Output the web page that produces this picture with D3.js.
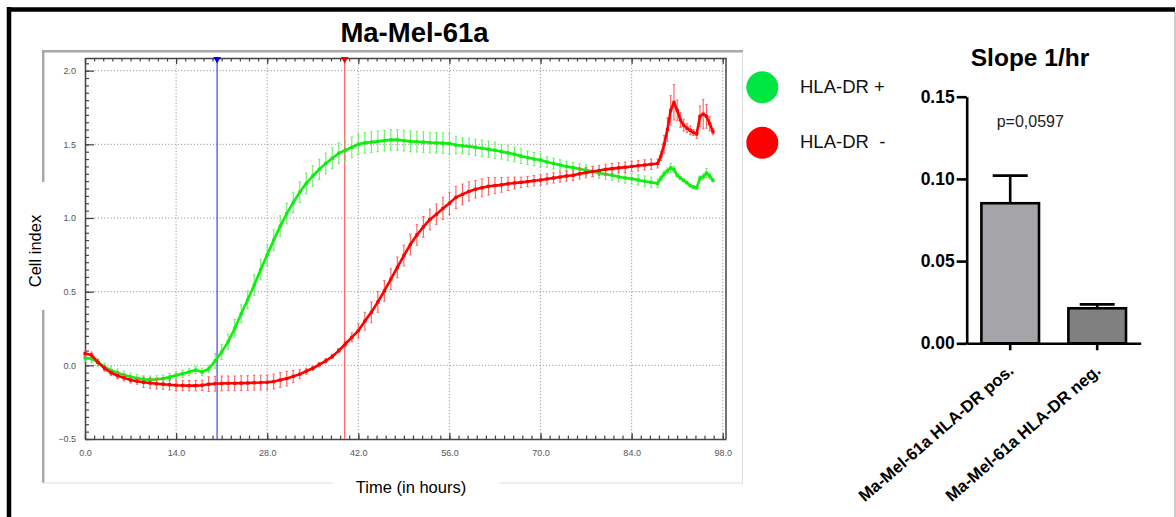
<!DOCTYPE html>
<html><head><meta charset="utf-8">
<script src="https://cdn.jsdelivr.net/npm/d3@7"></script>
<style>
body{margin:0;background:#fff;}
svg{display:block;font-family:"Liberation Sans",Arial,sans-serif;}
</style></head><body>
<svg id="c" width="1176" height="517"></svg>
<script>
// ---------- DATA ----------
const chartTitle = "Ma-Mel-61a";
const hours = [0,1,2,3,4,5,6,7,8,9,10,11,12,13,14,15,16,17,18,19,20,21,22,23,24,25,26,27,28,29,30,31,32,33,34,35,36,37,38,39,40,41,42,43,44,45,46,47,48,49,50,51,52,53,54,55,56,57,58,59,60,61,62,63,64,65,66,67,68,69,70,71,72,73,74,75,76,77,78,79,80,81,82,83,84,85,86,87,88,
  88.5,89,89.5,90,90.5,91,91.5,92,92.5,93,93.5,94,94.5,95,95.5,96,96.5];
const greenMean = [0.05,0.045,0.02,-0.01,-0.035,-0.05,-0.065,-0.078,-0.088,-0.095,-0.097,-0.095,-0.09,-0.08,-0.068,-0.057,-0.045,-0.032,-0.045,-0.025,0.03,0.09,0.16,0.25,0.35,0.445,0.545,0.65,0.75,0.85,0.945,1.03,1.105,1.175,1.235,1.285,1.33,1.37,1.405,1.44,1.46,1.48,1.5,1.51,1.515,1.52,1.525,1.53,1.53,1.525,1.52,1.518,1.515,1.512,1.51,1.508,1.505,1.495,1.49,1.486,1.48,1.474,1.467,1.46,1.45,1.442,1.432,1.42,1.41,1.4,1.394,1.38,1.37,1.36,1.35,1.342,1.333,1.325,1.315,1.305,1.297,1.29,1.28,1.272,1.266,1.258,1.25,1.242,1.235,
  1.27,1.3,1.32,1.34,1.33,1.29,1.27,1.255,1.24,1.22,1.21,1.205,1.27,1.28,1.305,1.285,1.255];
const greenErr = [0.025,0.025,0.025,0.025,0.025,0.025,0.025,0.025,0.025,0.025,0.025,0.025,0.025,0.025,0.025,0.025,0.025,0.025,0.025,0.025,0.05,0.05,0.05,0.06,0.06,0.06,0.07,0.07,0.07,0.07,0.07,0.07,0.07,0.07,0.07,0.07,0.07,0.07,0.07,0.07,0.07,0.07,0.07,0.07,0.07,0.07,0.07,0.07,0.07,0.07,0.07,0.07,0.07,0.07,0.07,0.07,0.07,0.06,0.055,0.055,0.055,0.055,0.055,0.055,0.05,0.05,0.05,0.05,0.045,0.045,0.045,0.035,0.035,0.035,0.035,0.035,0.035,0.035,0.035,0.035,0.035,0.035,0.035,0.035,0.035,0.035,0.035,0.035,0.03,
  0.015,0.02,0.02,0.03,0.02,0.01,0.01,0.01,0.01,0.01,0.01,0.01,0.015,0.02,0.03,0.02,0.01];
const redMean = [0.08,0.07,0.02,-0.02,-0.05,-0.07,-0.085,-0.1,-0.108,-0.115,-0.12,-0.125,-0.128,-0.132,-0.135,-0.137,-0.138,-0.138,-0.135,-0.128,-0.125,-0.123,-0.122,-0.122,-0.121,-0.12,-0.118,-0.117,-0.115,-0.11,-0.1,-0.09,-0.075,-0.06,-0.04,-0.02,0.005,0.03,0.06,0.1,0.145,0.19,0.235,0.3,0.36,0.43,0.505,0.585,0.665,0.745,0.82,0.885,0.94,0.99,1.025,1.065,1.1,1.14,1.16,1.18,1.195,1.205,1.215,1.22,1.225,1.232,1.238,1.242,1.247,1.253,1.258,1.265,1.272,1.278,1.285,1.29,1.3,1.308,1.316,1.322,1.33,1.335,1.34,1.345,1.35,1.355,1.36,1.365,1.37,
  1.42,1.5,1.6,1.73,1.785,1.73,1.665,1.63,1.61,1.595,1.58,1.57,1.69,1.705,1.69,1.64,1.585];
const redErr = [0.02,0.02,0.02,0.02,0.02,0.02,0.02,0.02,0.02,0.035,0.035,0.035,0.035,0.035,0.035,0.035,0.035,0.035,0.035,0.05,0.05,0.05,0.05,0.05,0.05,0.05,0.05,0.05,0.05,0.05,0.05,0.05,0.04,0.03,0.02,0.015,0.015,0.015,0.015,0.015,0.02,0.03,0.05,0.06,0.07,0.07,0.07,0.07,0.07,0.07,0.07,0.07,0.07,0.07,0.07,0.075,0.075,0.075,0.07,0.065,0.06,0.06,0.06,0.055,0.05,0.045,0.04,0.035,0.035,0.035,0.035,0.035,0.035,0.035,0.035,0.035,0.035,0.035,0.035,0.035,0.035,0.035,0.035,0.035,0.035,0.035,0.035,0.035,0.03,
  0.03,0.06,0.08,0.1,0.12,0.07,0.05,0.04,0.03,0.03,0.02,0.03,0.07,0.1,0.08,0.05,0.02];
const xTicks = [0,14,28,42,56,70,84,98];
const yTicks = [-0.5,0,0.5,1.0,1.5,2.0];
const markerHours = [20.3, 39.9];
const legendLabels = ["HLA-DR +", "HLA-DR  -"];

const slopeTitle = "Slope 1/hr";
const slopeCats = ["Ma-Mel-61a HLA-DR pos.", "Ma-Mel-61a HLA-DR neg."];
const slopeMean = [0.0852, 0.0213];
const slopeErr = [0.0168, 0.0024];
const slopeTicks = [0, 0.05, 0.10, 0.15];
const pValue = "p=0,0597";

// ---------- DRAW ----------
const svg = d3.select("#c");
const GREEN = "#10ee10", GREEN_E = "#66f066", RED = "#ff0000", RED_E = "#ff6060";

// outer frame
svg.append("line").attr("x1",7).attr("x2",1175).attr("y1",9.5).attr("y2",9.5).attr("stroke","#000").attr("stroke-width",4.5);
svg.append("line").attr("x1",9).attr("x2",9).attr("y1",7).attr("y2",517).attr("stroke","#000").attr("stroke-width",4.5);
svg.append("line").attr("x1",1175).attr("x2",1175).attr("y1",12).attr("y2",517).attr("stroke","#999").attr("stroke-width",1);

// title
svg.append("text").attr("x",414.5).attr("y",42).attr("text-anchor","middle")
  .attr("font-size",27.5).attr("font-weight","bold").text(chartTitle);

// gray panel frame
const pf = svg.append("g");
pf.append("line").attr("x1",42).attr("x2",743).attr("y1",51.2).attr("y2",51.2).attr("stroke","#a8a8a8").attr("stroke-width",2.5);
pf.append("line").attr("x1",43.2).attr("x2",43.2).attr("y1",50).attr("y2",182).attr("stroke","#a8a8a8").attr("stroke-width",2.5);
pf.append("line").attr("x1",43.2).attr("x2",43.2).attr("y1",310).attr("y2",483).attr("stroke","#a8a8a8").attr("stroke-width",2.5);
pf.append("line").attr("x1",42).attr("x2",333).attr("y1",483).attr("y2",483).attr("stroke","#ddd").attr("stroke-width",1.2);
pf.append("line").attr("x1",500).attr("x2",743).attr("y1",483).attr("y2",483).attr("stroke","#ddd").attr("stroke-width",1.2);
pf.append("line").attr("x1",742.5).attr("x2",742.5).attr("y1",52).attr("y2",483).attr("stroke","#ddd").attr("stroke-width",1);

const x = d3.scaleLinear().domain([0, 98.5]).range([85, 726]);
const y = d3.scaleLinear().domain([-0.5, 2.086]).range([439, 58]);

// grid
const grid = svg.append("g").attr("stroke","#9a9a9a").attr("stroke-width",1).attr("stroke-dasharray","1.2,2");
xTicks.filter(d=>d>0).forEach(d=>{
  grid.append("line").attr("x1",x(d)).attr("x2",x(d)).attr("y1",58).attr("y2",439);
});
yTicks.filter(d=>d>-0.5).forEach(d=>{
  grid.append("line").attr("x1",85).attr("x2",726).attr("y1",y(d)).attr("y2",y(d));
});

// axes
const minorX = d3.range(0, 98.6, 1.4);
const minorY = d3.range(-0.5, 2.051, 0.05);
function styleAxis(g){
  g.selectAll("path").attr("stroke","#444").attr("stroke-width",1.5);
  g.selectAll("line").attr("stroke","#444").attr("stroke-width",1.2);
  g.selectAll("text").attr("fill","#555").attr("font-size",9);
}
svg.append("g").attr("transform","translate(0,439)")
  .call(d3.axisBottom(x).tickValues(minorX).tickSizeInner(-3.5).tickSizeOuter(0).tickFormat(""))
  .call(styleAxis);
svg.append("g").attr("transform","translate(0,439)")
  .call(d3.axisBottom(x).tickValues(xTicks).tickSizeInner(-6).tickSizeOuter(0).tickPadding(11).tickFormat(d3.format(".1f")))
  .call(styleAxis).call(g=>g.select(".domain").remove());
svg.append("g").attr("transform","translate(0,58)")
  .call(d3.axisTop(x).tickValues(minorX).tickSizeInner(-3.5).tickSizeOuter(0).tickFormat(""))
  .call(styleAxis);
svg.append("g").attr("transform","translate(0,58)")
  .call(d3.axisTop(x).tickValues(xTicks).tickSizeInner(-6).tickSizeOuter(0).tickFormat(""))
  .call(styleAxis).call(g=>g.select(".domain").remove());
svg.append("g").attr("transform","translate(85,0)")
  .call(d3.axisLeft(y).tickValues(minorY).tickSizeInner(-4).tickSizeOuter(0).tickFormat(""))
  .call(styleAxis);
svg.append("g").attr("transform","translate(85,0)")
  .call(d3.axisLeft(y).tickValues(yTicks).tickSizeInner(-9).tickSizeOuter(0).tickPadding(9).tickFormat(d3.format(".1f")))
  .call(styleAxis).call(g=>g.select(".domain").remove());
svg.append("line").attr("x1",726).attr("x2",726).attr("y1",58).attr("y2",439).attr("stroke","#444").attr("stroke-width",1.5);

// axis titles
svg.append("text").attr("transform","translate(41,251) rotate(-90)").attr("text-anchor","middle")
  .attr("font-size",16.5).text("Cell index");
svg.append("text").attr("x",411).attr("y",492.5).attr("text-anchor","middle")
  .attr("font-size",16.5).text("Time (in hours)");

// vertical marker lines
const markerColors = ["#4d4dff", "#ff6a6a"];
const markerTri = ["#0000ee", "#ee0000"];
markerHours.forEach((h,i)=>{
  svg.append("line").attr("x1",x(h)).attr("x2",x(h)).attr("y1",58).attr("y2",439)
    .attr("stroke",markerColors[i]).attr("stroke-width",1.3);
  svg.append("path").attr("d",`M${x(h)-3.8},57 L${x(h)+3.8},57 L${x(h)},63.5 Z`).attr("fill",markerTri[i]);
});

// series
function drawSeries(mean, err, col, ecol){
  const g = svg.append("g");
  const pts = hours.map((h,i)=>({h, m:mean[i], e:err[i]}));
  g.selectAll("line.eb").data(pts).enter().append("line")
    .attr("x1",d=>x(d.h)).attr("x2",d=>x(d.h))
    .attr("y1",d=>y(d.m-d.e)).attr("y2",d=>y(d.m+d.e))
    .attr("stroke",ecol).attr("stroke-width",1.1);
  pts.forEach(d=>{
    [d.m-d.e, d.m+d.e].forEach(v=>{
      g.append("line").attr("x1",x(d.h)-1.2).attr("x2",x(d.h)+1.2).attr("y1",y(v)).attr("y2",y(v))
        .attr("stroke",ecol).attr("stroke-width",1);
    });
  });
  g.append("path").datum(pts)
    .attr("d", d3.line().x(d=>x(d.h)).y(d=>y(d.m)))
    .attr("fill","none").attr("stroke",col).attr("stroke-width",2.6).attr("stroke-linejoin","round");
  g.selectAll("rect.mk").data(pts).enter().append("rect")
    .attr("x",d=>x(d.h)-1.6).attr("y",d=>y(d.m)-1.6).attr("width",3.2).attr("height",3.2).attr("fill",col);
}
drawSeries(greenMean, greenErr, GREEN, GREEN_E);
drawSeries(redMean, redErr, RED, RED_E);

// legend
const legCol = ["#00e640", "#ff0000"];
const legY = [87.3, 142.7];
legendLabels.forEach((t,i)=>{
  svg.append("circle").attr("cx",762.3).attr("cy",legY[i]).attr("r",16).attr("fill",legCol[i]);
  svg.append("text").attr("x",800).attr("y",legY[i]+5.5).attr("font-size",18.5)
    .attr("fill","#111").style("white-space","pre").text(t);
});

// ---------- BAR CHART ----------
const yb = d3.scaleLinear().domain([0, 0.15]).range([343.3, 96.7]);
const xb = d3.scaleBand().domain(slopeCats).range([966.7, 1140.7]).paddingInner(0.338).paddingOuter(0.169);
const barFill = ["#a4a4a9", "#808080"];

svg.append("text").attr("x",1030).attr("y",66).attr("text-anchor","middle")
  .attr("font-size",24.5).attr("font-weight","bold").text(slopeTitle);

slopeCats.forEach((c,i)=>{
  const cx = xb(c) + xb.bandwidth()/2;
  svg.append("line").attr("x1",cx).attr("x2",cx).attr("y1",yb(slopeMean[i])).attr("y2",yb(slopeMean[i]+slopeErr[i]))
    .attr("stroke","#000").attr("stroke-width",2.6);
  svg.append("line").attr("x1",cx-17.5).attr("x2",cx+17.5).attr("y1",yb(slopeMean[i]+slopeErr[i])).attr("y2",yb(slopeMean[i]+slopeErr[i]))
    .attr("stroke","#000").attr("stroke-width",2.6);
  svg.append("rect").attr("x",xb(c)).attr("y",yb(slopeMean[i])).attr("width",xb.bandwidth())
    .attr("height",yb(0)-yb(slopeMean[i])).attr("fill",barFill[i]).attr("stroke","#000").attr("stroke-width",2.6);
});

svg.append("g").attr("transform","translate(966.7,0)")
  .call(d3.axisLeft(yb).tickValues(slopeTicks).tickSize(10).tickSizeOuter(0).tickPadding(2).tickFormat(d3.format(".2f")))
  .call(g=>{
    g.select(".domain").attr("stroke","#000").attr("stroke-width",2.6);
    g.selectAll("line").attr("stroke","#000").attr("stroke-width",2.6);
    g.selectAll("text").attr("fill","#000").attr("font-size",17.5).attr("font-weight","bold");
  });
svg.append("g").attr("transform","translate(0,343.3)")
  .call(d3.axisBottom(xb).tickSize(7).tickSizeOuter(0))
  .call(g=>{
    g.select(".domain").attr("stroke","#000").attr("stroke-width",2.6);
    g.selectAll("line").attr("stroke","#000").attr("stroke-width",2.6);
    g.selectAll("text").attr("fill","#000").attr("font-size",16.8).attr("font-weight","bold")
      .attr("text-anchor","end").attr("dy",0).attr("y",0)
      .attr("transform","translate(4.5,29) rotate(-41)");
  });

svg.append("text").attr("x",996.7).attr("y",127).attr("font-size",16).attr("fill","#222").text(pValue);
</script>
</body></html>
